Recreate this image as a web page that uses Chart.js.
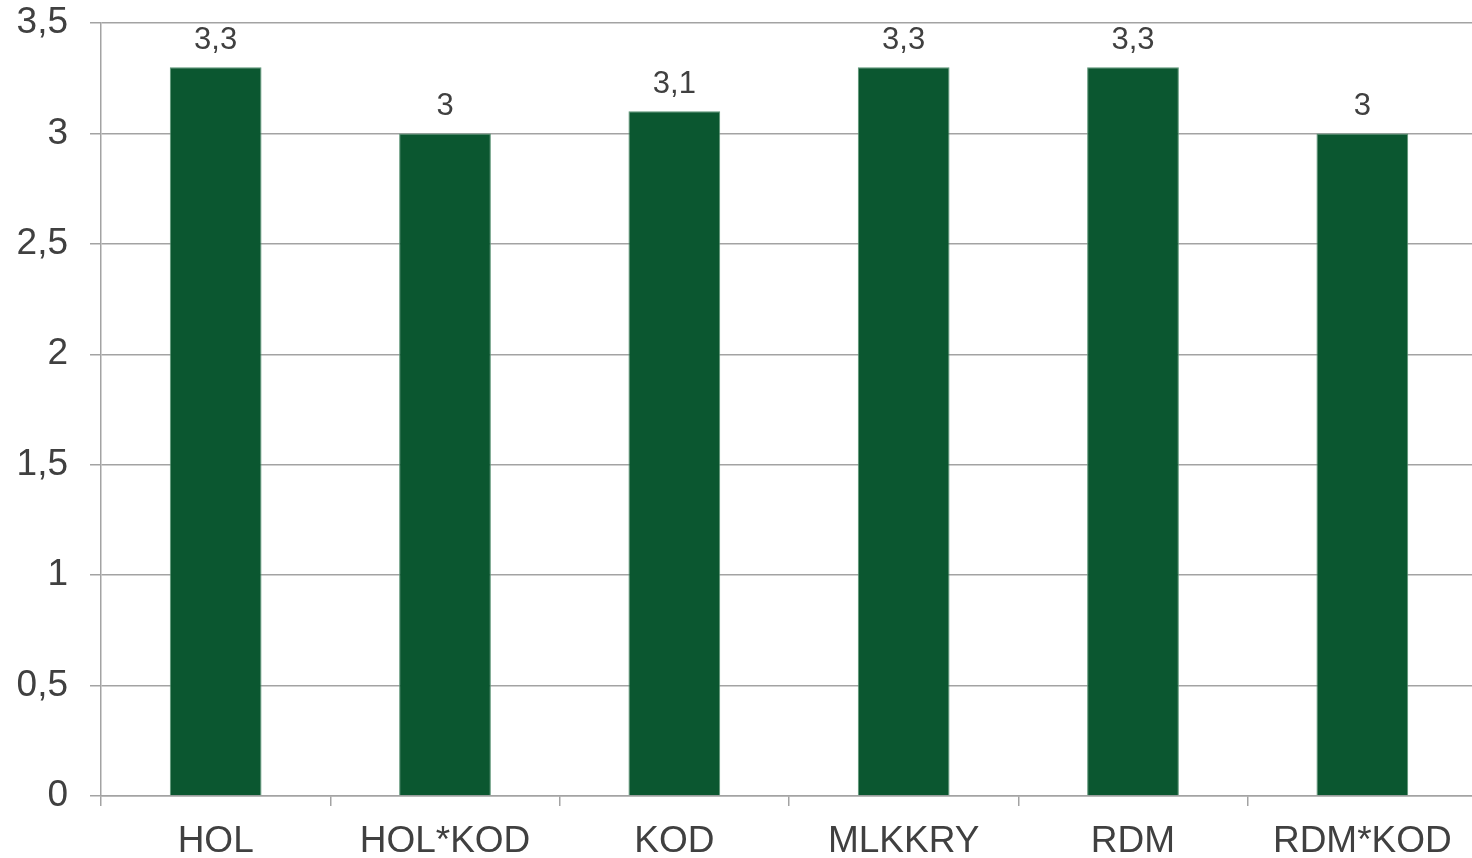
<!DOCTYPE html>
<html>
<head>
<meta charset="utf-8">
<script src="https://cdn.jsdelivr.net/npm/chart.js@4/dist/chart.umd.min.js"></script>
<style>
  html, body { margin: 0; padding: 0; background: #fff; overflow: hidden; }
  #wrap { width: 1477px; height: 858px; }
</style>
</head>
<body>
<div id="wrap"><canvas id="bar-chart"></canvas></div>
<script>
'use strict';

/*===== Données =====*/
const categories = ['HOL', 'HOL*KOD', 'KOD', 'MLKKRY', 'RDM', 'RDM*KOD'];
const values = [3.3, 3, 3.1, 3.3, 3.3, 3];
const yTicks = [0, 0.5, 1, 1.5, 2, 2.5, 3, 3.5];

const fontFamily = "'Liberation Sans', Arial, sans-serif";
const textColor = '#404040';
const gridColor = '#a3a3a3';

// virgule décimale
function fmt(v){
  return String(v).replace('.', ',');
}

/*===== Etiquettes au-dessus des barres =====*/
const valueLabels = {
  id: 'valueLabels',
  afterDatasetsDraw(chart){
    const c = chart.ctx;
    const meta = chart.getDatasetMeta(0);
    c.save();
    c.font = '31px ' + fontFamily;
    c.fillStyle = textColor;
    c.textAlign = 'center';
    c.textBaseline = 'alphabetic';
    meta.data.forEach((bar, i) => {
      c.fillText(fmt(values[i]), bar.x, bar.y - 18);
    });
    c.restore();
  }
};

const cst = document.getElementById('bar-chart').getContext('2d');

new Chart(cst, {
  type: 'bar',
  data: {
    labels: categories,
    datasets: [{
      data: values,
      backgroundColor: '#0b5730',
      borderColor: '#5a9374',
      borderWidth: 1,
      categoryPercentage: 1,
      barPercentage: 0.4
    }]
  },
  options: {
    responsive: true,
    maintainAspectRatio: false,
    animation: false,
    layout: { padding: { left: 0, right: 0, top: 23, bottom: 0 } },
    plugins: {
      legend: { display: false },
      title: { display: false },
      tooltip: { enabled: false }
    },
    scales: {
      x: {
        afterFit: axis => {
          axis.height = 62;
          axis.paddingLeft = 0;
          axis.paddingRight = 0;
        },
        grid: {
          display: true,
          drawOnChartArea: false,
          drawTicks: true,
          tickLength: 10,
          color: gridColor,
          lineWidth: 1.5
        },
        border: { display: true, color: gridColor, width: 1.5 },
        ticks: {
          color: textColor,
          padding: 14,
          maxRotation: 0,
          font: { family: fontFamily, size: 37 }
        }
      },
      y: {
        min: 0,
        max: 3.5,
        afterBuildTicks: axis => {
          axis.ticks = yTicks.map(v => ({ value: v }));
        },
        afterFit: axis => {
          axis.width = 101;
          axis.paddingTop = 0;
          axis.paddingBottom = 0;
        },
        grid: {
          color: gridColor,
          lineWidth: 1.5,
          tickLength: 11
        },
        border: { display: true, color: gridColor, width: 1.5 },
        ticks: {
          color: textColor,
          padding: 22,
          font: { family: fontFamily, size: 37 },
          callback: v => fmt(v)
        }
      }
    }
  },
  plugins: [valueLabels]
});
</script>
</body>
</html>
